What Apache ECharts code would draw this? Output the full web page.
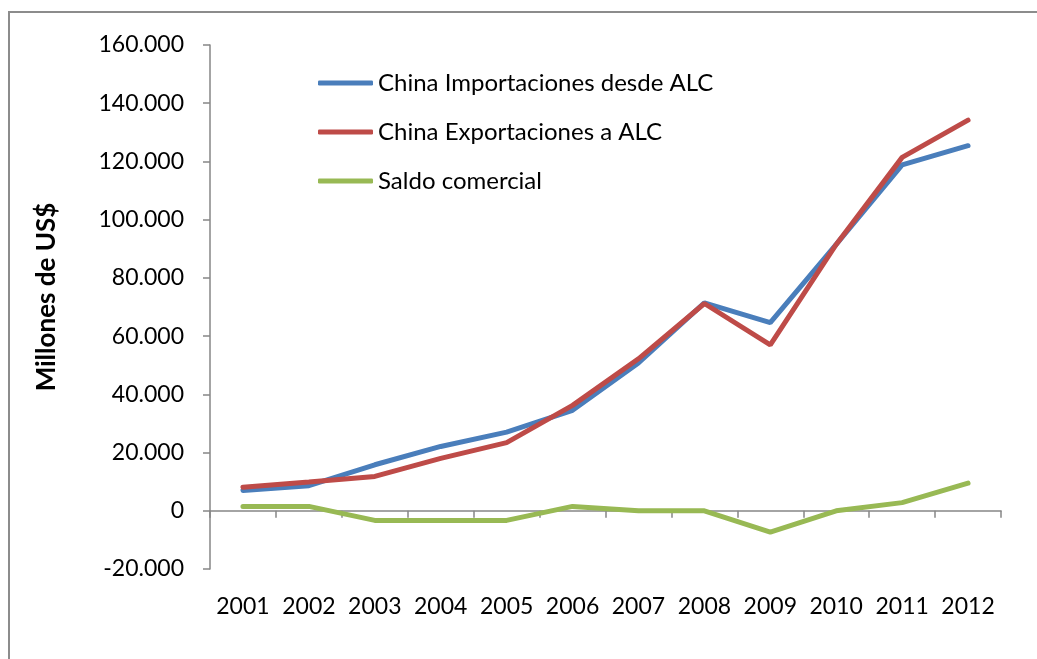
<!DOCTYPE html>
<html>
<head>
<meta charset="utf-8">
<script src="https://cdn.jsdelivr.net/npm/echarts@6/dist/echarts.min.js"></script>
<style>
html,body{margin:0;padding:0;background:#fff;}
#c{width:1037px;height:659px;}
</style>
</head>
<body>
<div id="c"></div>
<script>
var years = ['2001','2002','2003','2004','2005','2006','2007','2008','2009','2010','2011','2012'];
var importaciones = [7000, 8600, 15800, 22100, 27000, 34500, 50800, 71400, 64600, 91500, 118800, 125400];
var exportaciones = [8100, 9900, 11800, 18000, 23400, 36200, 52200, 71200, 57000, 91500, 121400, 134200];
var saldo = [1500, 1500, -3300, -3300, -3300, 1500, 0, 0, -7300, 0, 2800, 9500];
var seriesNames = ['China Importaciones desde ALC', 'China Exportaciones a ALC', 'Saldo comercial'];
var yMin = -20000, yMax = 160000, yStep = 20000;

var FONT = 'Lato, "Open Sans", sans-serif';
function fmt(v){
  var s = Math.abs(v).toString().replace(/\B(?=(\d{3})+(?!\d))/g, '.');
  return (v < 0 ? '-' : '') + s;
}
var chart = echarts.init(document.getElementById('c'));
chart.setOption({
  animation: false,
  backgroundColor: '#fff',
  graphic: [{
    type: 'rect',
    shape: {x: 9, y: 12, width: 1100, height: 700},
    style: {fill: 'none', stroke: '#8c8c8c', lineWidth: 2},
    silent: true, z: -10
  }],
  grid: {left: 210, top: 45, right: 36, bottom: 90, containLabel: false},
  legend: {
    orient: 'vertical',
    left: 318, top: 71, padding: 0,
    icon: 'roundRect',
    itemWidth: 55, itemHeight: 5, itemGap: 25,
    textStyle: {fontFamily: FONT, fontSize: 24, color: '#000'},
    data: seriesNames
  },
  xAxis: [{
    type: 'category',
    data: years,
    boundaryGap: true,
    axisLine: {onZero: true, lineStyle: {color: '#868686', width: 1.5}},
    axisTick: {show: true, inside: false, length: 7, lineStyle: {color: '#868686', width: 1.5}},
    axisLabel: {show: false},
    splitLine: {show: false}
  }, {
    type: 'category',
    data: years,
    position: 'bottom',
    boundaryGap: true,
    axisLine: {show: false},
    axisTick: {show: false},
    axisLabel: {show: true, margin: 26, fontFamily: FONT, fontSize: 23, color: '#000', interval: 0},
    splitLine: {show: false}
  }],
  yAxis: {
    type: 'value',
    min: yMin, max: yMax, interval: yStep,
    name: 'Millones de US$',
    nameLocation: 'middle',
    nameGap: 150,
    nameRotate: 90,
    nameTextStyle: {fontFamily: FONT, fontSize: 26, fontWeight: 'bold', color: '#000', padding: [0, 0, 0, 20]},
    axisLine: {show: true, lineStyle: {color: '#868686', width: 1.5}},
    axisTick: {show: true, length: 7, lineStyle: {color: '#868686', width: 1.5}},
    axisLabel: {margin: 26, fontFamily: FONT, fontSize: 23, color: '#000', formatter: fmt},
    splitLine: {show: false}
  },
  series: [{
    name: seriesNames[0], type: 'line', data: importaciones,
    symbol: 'none', lineStyle: {width: 5, color: '#4A7EBB', cap: 'round'},
    itemStyle: {color: '#4A7EBB'}, z: 2
  }, {
    name: seriesNames[1], type: 'line', data: exportaciones,
    symbol: 'none', lineStyle: {width: 5, color: '#BE4B48', cap: 'round'},
    itemStyle: {color: '#BE4B48'}, z: 3
  }, {
    name: seriesNames[2], type: 'line', data: saldo,
    symbol: 'none', lineStyle: {width: 5, color: '#98B954', cap: 'round'},
    itemStyle: {color: '#98B954'}, z: 1
  }]
});
</script>
</body>
</html>
